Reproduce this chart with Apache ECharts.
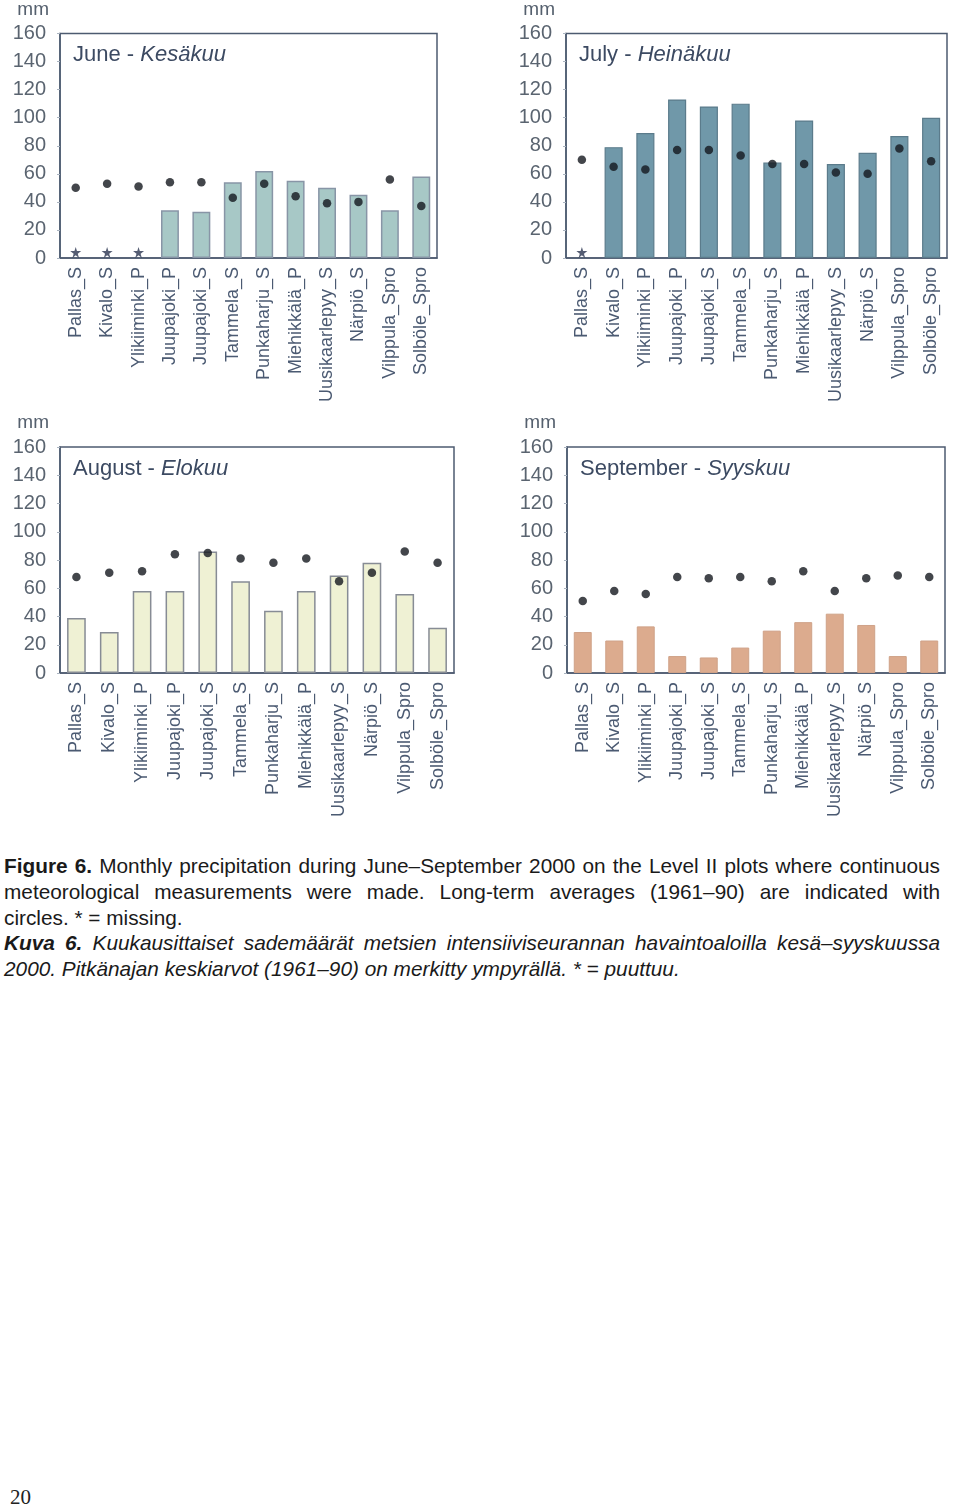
<!DOCTYPE html>
<html>
<head>
<meta charset="utf-8">
<script src="https://cdn.jsdelivr.net/npm/echarts@6/dist/echarts.min.js"></script>
<style>
  html, body { margin: 0; padding: 0; background: #fff; }
  #page { position: relative; width: 960px; height: 1509px; overflow: hidden; }
  #chart { position: absolute; left: 0; top: 0; width: 960px; height: 840px; }
  #caption { position: absolute; left: 4px; top: 853px; width: 936px;
    font-family: "Liberation Sans", Arial, sans-serif; font-size: 20.8px; line-height: 25.8px; color: #1a1a1a; }
  #caption .l { white-space: nowrap; text-align: justify; text-align-last: justify; }
  #caption .last { white-space: nowrap; text-align: left; text-align-last: left; }
  #caption .it { font-style: italic; }
  #pagenum { position: absolute; left: 10px; top: 1485px; font-family: "Liberation Serif", "Times New Roman", serif; font-size: 21px; color: #222; }
</style>
</head>
<body>
<div id="page">
  <div id="chart"></div>
  <div id="caption">
    <div class="l"><b>Figure 6.</b> Monthly precipitation during June–September 2000 on the Level II plots where continuous</div>
    <div class="l">meteorological measurements were made. Long-term averages (1961–90) are indicated with</div>
    <div class="last">circles. * = missing.</div>
    <div class="l it"><b>Kuva 6.</b> Kuukausittaiset sademäärät metsien intensiiviseurannan havaintoaloilla kesä–syyskuussa</div>
    <div class="last it">2000. Pitkänajan keskiarvot (1961–90) on merkitty ympyrällä. * = puuttuu.</div>
  </div>
  <div id="pagenum">20</div>
</div>
<script>
// ---- data ----
const categories = ['Pallas_S','Kivalo_S','Ylikiiminki_P','Juupajoki_P','Juupajoki_S','Tammela_S','Punkaharju_S','Miehikkälä_P','Uusikaarlepyy_S','Närpiö_S','Vilppula_Spro','Solböle_Spro'];
const yTicks = [0, 20, 40, 60, 80, 100, 120, 140, 160];

const junePrecip = [null, null, null, 34, 33, 54, 62, 55, 50, 45, 34, 58];
const juneMean   = [50, 53, 51, 54, 54, 43, 53, 44, 39, 40, 56, 37];
const julyPrecip = [null, 79, 89, 113, 108, 110, 68, 98, 67, 75, 87, 100];
const julyMean   = [70, 65, 63, 77, 77, 73, 67, 67, 61, 60, 78, 69];
const augPrecip  = [39, 29, 58, 58, 86, 65, 44, 58, 69, 78, 56, 32];
const augMean    = [68, 71, 72, 84, 85, 81, 78, 81, 65, 71, 86, 78];
const sepPrecip  = [29, 23, 33, 12, 11, 18, 30, 36, 42, 34, 12, 23];
const sepMean    = [51, 58, 56, 68, 67, 68, 65, 72, 58, 67, 69, 68];

const titlesEn = ['June - ', 'July - ', 'August - ', 'September - '];
const titlesFi = ['Kesäkuu', 'Heinäkuu', 'Elokuu', 'Syyskuu'];

// ---- layout / style ----
const panels = [
  { grid: { left: 60,  top: 33,  width: 377, height: 225 }, fill: '#a7c8c6', border: '#8895a6', bw: 1.5, precip: junePrecip, mean: juneMean },
  { grid: { left: 566, top: 33,  width: 381, height: 225 }, fill: '#7098a9', border: '#5b7b8b', bw: 1.2, precip: julyPrecip, mean: julyMean },
  { grid: { left: 60,  top: 447, width: 394, height: 226 }, fill: '#eff1d4', border: '#878c95', bw: 1.5, precip: augPrecip,  mean: augMean },
  { grid: { left: 567, top: 447, width: 378, height: 226 }, fill: '#dcab8e', border: '#cfa288', bw: 1,   precip: sepPrecip,  mean: sepMean }
];
const MISSING_Y = 4;
const font = '"Liberation Sans", Arial, sans-serif';
const axisCol = '#4d5b70';

const option = { animation: false, backgroundColor: '#fff', grid: [], xAxis: [], yAxis: [], series: [], title: [] };

panels.forEach((p, i) => {
  option.grid.push(Object.assign({ show: true, borderColor: axisCol, borderWidth: 1.5, backgroundColor: 'transparent' }, p.grid));
  option.title.push({
    text: '{n|' + titlesEn[i] + '}{it|' + titlesFi[i] + '}',
    left: p.grid.left + 13, top: p.grid.top + 11, padding: 0,
    textStyle: { fontWeight: 'normal', rich: {
      n:  { fontFamily: font, fontSize: 22, fontWeight: 'normal', color: '#3c4a62' },
      it: { fontFamily: font, fontSize: 22, fontWeight: 'normal', fontStyle: 'italic', color: '#3c4a62' }
    } }
  });
  option.xAxis.push({
    type: 'category', gridIndex: i, data: categories,
    axisLine: { lineStyle: { color: axisCol, width: 1.5 } },
    axisTick: { show: false },
    axisLabel: { rotate: 90, interval: 0, margin: 9, fontFamily: font, fontSize: 18, color: '#4b5a72' }
  });
  option.yAxis.push({
    type: 'value', gridIndex: i, min: 0, max: 160, interval: 20,
    name: 'mm', nameLocation: 'end', nameGap: 24,
    nameTextStyle: { fontFamily: font, fontSize: 19, color: '#55606e', align: 'right', verticalAlign: 'middle', padding: [0, 11, 0, 0] },
    axisLine: { show: true, lineStyle: { color: axisCol, width: 1.5 } },
    axisTick: { show: true, length: 3, lineStyle: { color: '#aab4c0' } },
    splitLine: { show: false },
    axisLabel: { margin: 14, fontFamily: font, fontSize: 20, color: '#5a6470',
      formatter: v => yTicks.includes(v) ? String(v) : '' }
  });
  option.series.push({
    type: 'bar', xAxisIndex: i, yAxisIndex: i, data: p.precip, barWidth: '57%',
    itemStyle: { color: p.fill, borderColor: p.border, borderWidth: p.bw }
  });
  option.series.push({
    type: 'scatter', xAxisIndex: i, yAxisIndex: i, data: p.mean, symbol: 'circle', symbolSize: 8.5,
    itemStyle: { color: '#14181e' }, z: 5
  });
  option.series.push({
    type: 'scatter', xAxisIndex: i, yAxisIndex: i,
    data: p.precip.map(v => v === null ? MISSING_Y : '-'),
    symbol: 'path://M50,0 L61,35 L98,35 L68,57 L79,91 L50,70 L21,91 L32,57 L2,35 L39,35 Z', symbolSize: 11,
    itemStyle: { color: '#2a3550' }, z: 5
  });
});

const chart = echarts.init(document.getElementById('chart'), null, { renderer: 'canvas' });
chart.setOption(option);

// fit over-long caption lines by tightening word spacing
document.querySelectorAll('#caption .l').forEach(el => {
  const target = 936;
  let ws = 0;
  el.style.textAlignLast = 'left';
  while (el.scrollWidth > target && ws > -6) {
    ws -= 0.25;
    el.style.wordSpacing = ws + 'px';
  }
  el.style.textAlignLast = 'justify';
});
</script>
</body>
</html>
